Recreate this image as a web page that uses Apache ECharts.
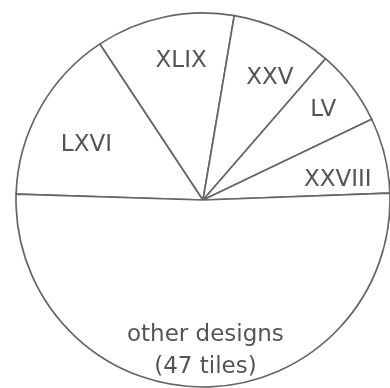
<!DOCTYPE html>
<html>
<head>
<meta charset="utf-8">
<script src="https://cdn.jsdelivr.net/npm/echarts@6/dist/echarts.min.js"></script>
<style>
  html, body { margin: 0; padding: 0; background: #fff; }
  #main { width: 390px; height: 388px; }
</style>
</head>
<body>
<div id="main"></div>
<script>
// tile counts per design, clockwise from the left
var designs = ['LXVI', 'XLIX', 'XXV', 'LV', 'XXVIII', 'other designs']
var tiles = [14, 11, 8, 6, 6, 47]

// small hand nudges so the labels sit where the original has them
var labelNudge = [[10, 16], [8, 3], [5, 9], [5, -2], [-6, 15], [2, 6]]

var pieData = designs.map(function(name, i) {
  return { name: name, value: tiles[i] }
})

var myChart = echarts.init(document.getElementById('main'))

var option = {
  backgroundColor: '#fff',
  animation: false,
  series: [
    {
      // the outlined pie
      type: 'pie',
      center: [203, 200],
      radius: [0, 187],
      startAngle: 178.2,
      clockwise: true,
      silent: true,
      itemStyle: {
        color: '#fff',
        borderColor: '#666',
        borderWidth: 1.7
      },
      label: { show: false },
      labelLine: { show: false },
      data: pieData
    },
    {
      // invisible ring, only to put the labels further out
      type: 'pie',
      center: [203, 200],
      radius: [97, 187],
      startAngle: 178.2,
      clockwise: true,
      silent: true,
      itemStyle: {
        color: 'rgba(0,0,0,0)',
        borderWidth: 0
      },
      label: {
        show: true,
        position: 'inside',
        color: '#555',
        fontFamily: 'DejaVu Sans',
        fontSize: 23,
        lineHeight: 32,
        formatter: function(p) {
          if (p.name === 'other designs') {
            return p.name + '\n(' + p.value + ' tiles)'
          }
          return p.name
        }
      },
      labelLayout: function(params) {
        var n = labelNudge[params.dataIndex]
        return { dx: n[0], dy: n[1] }
      },
      labelLine: { show: false },
      data: pieData
    }
  ]
}

myChart.setOption(option)
</script>
</body>
</html>
